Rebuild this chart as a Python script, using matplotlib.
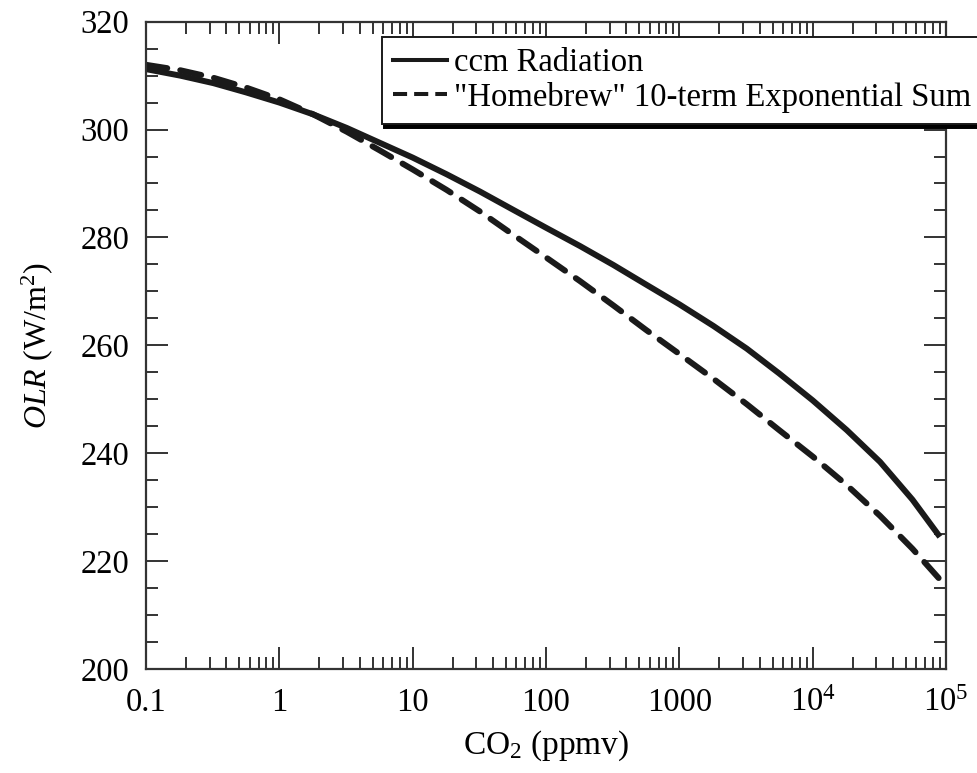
"""OLR vs CO2: ccm radiation vs homebrew exponential-sum fit."""

import matplotlib
matplotlib.use("Agg")
import matplotlib.pyplot as plt
from matplotlib.lines import Line2D
from matplotlib.ticker import FixedLocator, FixedFormatter, LogLocator, MultipleLocator

plt.rcParams["font.family"] = ["Liberation Serif", "DejaVu Serif"]
plt.rcParams["mathtext.fontset"] = "custom"
plt.rcParams["mathtext.rm"] = "Liberation Serif"
plt.rcParams["mathtext.it"] = "Liberation Serif:italic"

# values (ppmv, W/m^2), roughly quarter-decade steps
co2 = [0.1, 0.18, 0.32, 0.56, 1, 1.8, 3.2, 5.6, 10, 18, 32, 56, 100, 180,
       320, 560, 1000, 1800, 3200, 5600, 1e4, 1.8e4, 3.2e4, 5.6e4, 9e4]
olr_ccm = [311.2, 310.0, 308.6, 306.9, 305.0, 302.8, 300.3, 297.6, 294.8,
           291.7, 288.5, 285.2, 281.8, 278.4, 274.9, 271.3, 267.6, 263.6,
           259.4, 254.8, 249.8, 244.3, 238.4, 231.4, 224.5]
olr_homebrew = [312.0, 311.0, 309.6, 307.8, 305.6, 302.8, 299.6, 296.2,
                292.6, 288.8, 284.8, 280.6, 276.3, 271.9, 267.4, 262.9,
                258.4, 253.8, 249.1, 244.3, 239.4, 234.1, 228.4, 222.3, 216.6]

labels = ["ccm Radiation", '"Homebrew" 10-term Exponential Sum']
xticks = [0.1, 1, 10, 100, 1000, 1e4, 1e5]
xticklabels = ["0.1", "1", "10", "100", "1000", "10$^4$", "10$^5$"]

fig = plt.figure(figsize=(9.78, 7.73), dpi=100)
ax = fig.add_axes([0.1493, 0.1345, 0.8180, 0.8375])

lw = 4.3
ax.plot(co2, olr_ccm, color="#1a1a1a", lw=lw, solid_capstyle="butt",
        solid_joinstyle="round")
ax.plot(co2, olr_homebrew, color="#1a1a1a", lw=lw, dashes=(3.6, 2.2),
        dash_capstyle="round", dash_joinstyle="round")

ax.set_xscale("log")
ax.set_xlim(0.1, 1e5)
ax.set_ylim(200, 320)
ax.xaxis.set_major_locator(FixedLocator(xticks))
ax.xaxis.set_major_formatter(FixedFormatter(xticklabels))
ax.xaxis.set_minor_locator(LogLocator(base=10, subs=range(2, 10), numticks=20))
ax.yaxis.set_major_locator(MultipleLocator(20))
ax.yaxis.set_minor_locator(MultipleLocator(5))

ax.tick_params(which="both", direction="in", top=True, right=True,
               width=1.4, color="#333333", labelsize=23.5)
ax.tick_params(which="major", length=16)
ax.tick_params(which="minor", length=8.5)
ax.tick_params(axis="x", pad=13)
ax.tick_params(axis="y", pad=12)
for s in ax.spines.values():
    s.set_linewidth(1.6)
    s.set_color("#333333")

ax.set_xlabel("CO$_2$ (ppmv)", fontsize=24, labelpad=8)
ax.set_ylabel(r"$\mathit{OLR}$ (W/m$^2$)", fontsize=23, labelpad=18)

handles = [
    Line2D([], [], color="#1a1a1a", lw=2.9),
    Line2D([], [], color="#1a1a1a", lw=2.9, dashes=(3.5, 1.75)),
]
# box runs past the right edge of the figure, as in the original
leg = ax.legend(handles, labels, loc="upper left",
                bbox_to_anchor=(382 / 978, 1 - 36.5 / 773, 640 / 978, 0),
                bbox_transform=fig.transFigure, borderaxespad=0, mode="expand",
                fontsize=23.5, frameon=True, fancybox=False,
                handlelength=1.65, handletextpad=0.2, borderpad=0.35,
                labelspacing=0.1,
                shadow={"ox": 1.5, "oy": -2.5, "facecolor": "black",
                        "edgecolor": "black", "alpha": 1})
leg.get_frame().set_edgecolor("#1a1a1a")
leg.get_frame().set_linewidth(1.4)
leg.set_zorder(10)

fig.savefig("out.png", dpi=100)
